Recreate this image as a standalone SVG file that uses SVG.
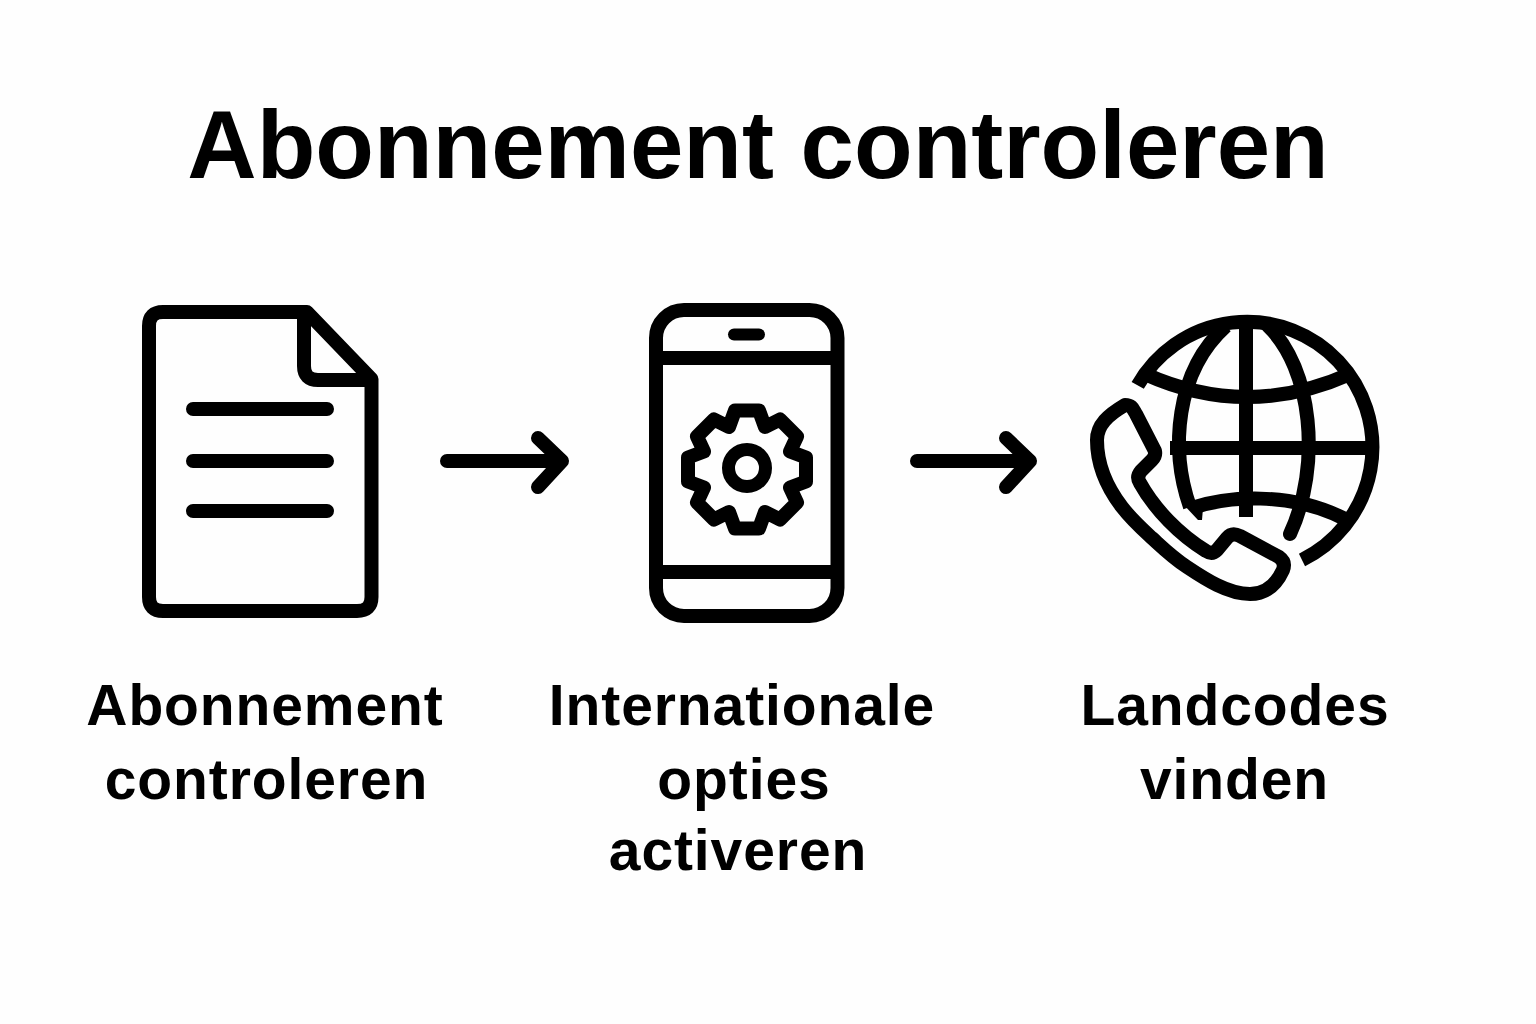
<svg xmlns="http://www.w3.org/2000/svg" width="1536" height="1024" viewBox="0 0 1536 1024">
<style>
.ln{fill:none;stroke:#000;stroke-width:14;stroke-linecap:round;stroke-linejoin:round}
.bt{stroke-linecap:butt}
text{font-family:"Liberation Sans",Arial,sans-serif;fill:#000;text-anchor:middle;font-weight:700}
.t{font-size:96px}
.l{font-size:57px;letter-spacing:0.9px}
</style>
<rect width="1536" height="1024" fill="#fefefe"/>
<text class="t" x="758" y="178">Abonnement controleren</text>
<g id="node-document">
<path class="ln" d="M149 326Q149 312 163 312H307L371.500 379V597Q371.500 611 357 611H163Q149 611 149 597Z"/>
<path class="ln" d="M304 312V366Q304 380 318 380H371"/>
<path class="ln" d="M193 409H327M193 461H327M193 511H327"/>
<text class="l" x="265" y="725">Abonnement</text>
<text class="l" x="266.500" y="799">controleren</text>
</g>
<g id="node-phone">
<rect class="ln" x="656" y="310" width="181.500" height="306" rx="28"/>
<path class="ln bt" d="M656 358H838M656 572H838"/>
<path class="ln" style="stroke-width:12" d="M734 334.500H759"/>
<path class="ln" transform="translate(0 1.500)" d="M759 409L765 425.500L780 418L797 435L790 450L806 456V480L790 486L797 501L780 518L765 510.500L759 527H735L729 510.500L714 518L697 501L704 486L688 480V456L704 450L697 435L714 418L729 425.500L735 409Z"/>
<circle class="ln" style="stroke-width:13" cx="747" cy="468" r="18.500"/>
<text class="l" x="742" y="725">Internationale</text>
<text class="l" x="744" y="799">opties</text>
<text class="l" x="738" y="870">activeren</text>
</g>
<g id="node-globe">
<path class="ln bt" d="M1137.700 385.400A125.500 125.500 0 1 1 1302 560"/>
<path class="ln bt" d="M1246 322V517M1170 448H1372"/>
<path class="ln bt" d="M1145 374Q1247 420 1350 374"/>
<path class="ln bt" d="M1192 508C1225 497 1290 490 1347 520"/>
<path class="ln bt" d="M1226 326C1175 372 1170 450 1190 507"/>
<path class="ln" d="M1268 326C1312 368 1322 465 1290 534"/>
<polygon points="1183,504 1197,500 1203,508 1202,520 1198,520" fill="#000"/>
<path class="ln" d="M1125 405C1132 405 1133 409 1136 414L1155 451Q1156 456 1152 460L1141 471Q1136 477 1140 483C1155 510 1180 535 1206 551Q1212 555 1217 550L1227 538Q1232 532 1240 536L1279 557Q1286 562 1283 570Q1272 594 1250 594C1228 594 1205 579 1187 567C1172 557 1164 549 1152 538C1140 527 1132 520 1122 507C1112 494 1097 470 1097 440C1097 425 1108 415 1125 405Z"/>
<text class="l" x="1235" y="725">Landcodes</text>
<text class="l" x="1234.500" y="799">vinden</text>
</g>
<g id="connectors">
<path class="ln" d="M447 461H562M538 438L562 461L538 487"/>
<path class="ln" d="M917 461H1030M1006 438L1030 461L1006 487"/>
</g>
</svg>
